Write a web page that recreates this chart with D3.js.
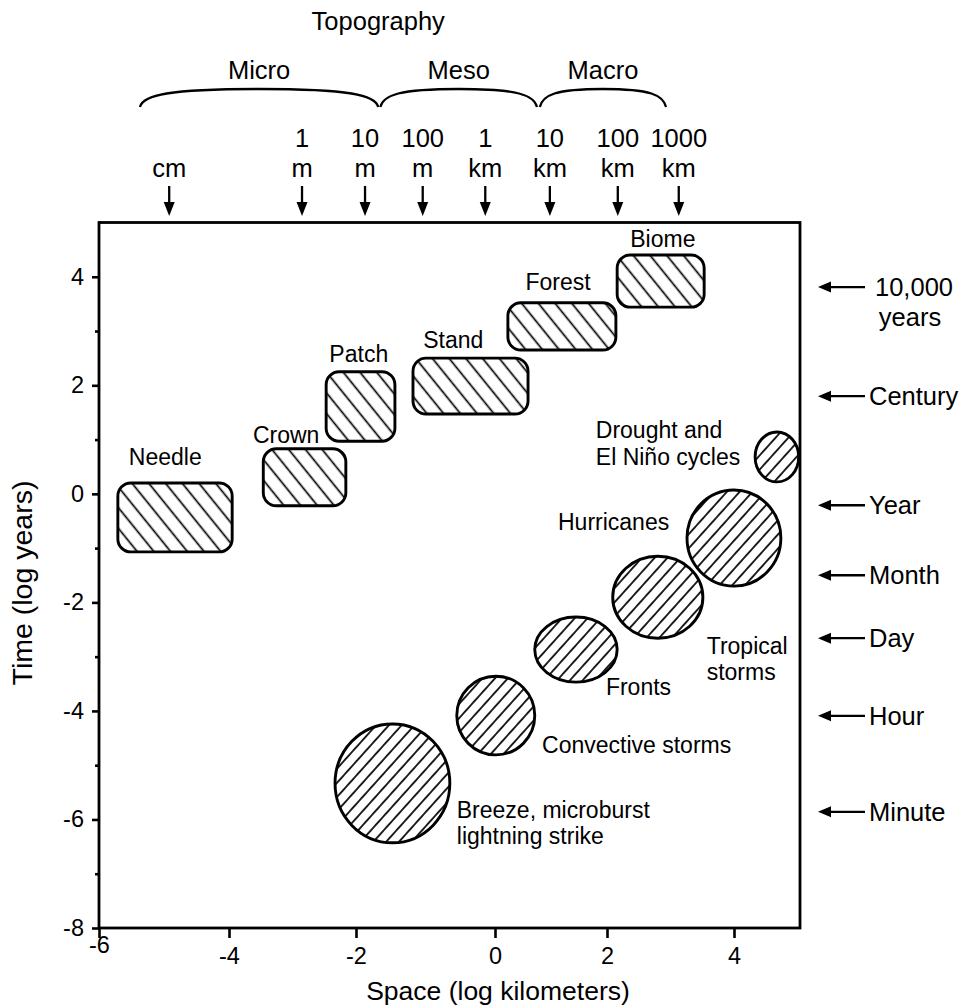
<!DOCTYPE html>
<html>
<head>
<meta charset="utf-8">
<script src="https://cdn.jsdelivr.net/npm/d3@7"></script>
<style>
    body { margin: 0; background: #fff; }
    text { font-family: "Liberation Sans", Arial, Helvetica, sans-serif; fill: #000; }
</style>
</head>
<body>
<svg id="chart"></svg>
<script>
// axis ticks
var spaceTicks = [-6, -4, -2, 0, 2, 4];
var timeTicks = [-8, -6, -4, -2, 0, 2, 4];
var timeMinor = [-7, -5, -3, -1, 1, 3];

// vegetation scales: [min, max] in log km and log years
var vegNames = ["Needle", "Crown", "Patch", "Stand", "Forest", "Biome"];
var vegSpace = [[-5.71, -3.95], [-3.46, -2.16], [-2.47, -1.44], [-1.18, 0.59], [0.23, 2.14], [2.16, 3.53]];
var vegTime = [[-1.07, 0.20], [-0.22, 0.83], [0.97, 2.25], [1.47, 2.50], [2.65, 3.52], [3.44, 4.40]];

// atmospheric scales
var atmosNames = [["Drought and", "El Niño cycles"], ["Hurricanes"], ["Tropical", "storms"],
    ["Fronts"], ["Convective storms"], ["Breeze, microburst", "lightning strike"]];
var atmosSpace = [[4.32, 4.98], [3.26, 4.71], [2.09, 3.51], [0.71, 2.16], [-0.55, 0.71], [-2.33, -0.65]];
var atmosTime = [[0.22, 1.14], [-1.70, 0.07], [-2.66, -1.15], [-3.47, -2.27], [-4.81, -3.36], [-6.43, -4.24]];

// topography reference marks along the top
var unitLabels = [["", "cm"], ["1", "m"], ["10", "m"], ["100", "m"], ["1", "km"], ["10", "km"], ["100", "km"], ["1000", "km"]];
var unitAt = [-4.92, -2.85, -1.87, -1.04, -0.14, 0.98, 2.17, 3.13];
var scaleNames = ["Micro", "Meso", "Macro"];
var scaleSpans = [[-5.37, -1.68], [-1.65, 0.75], [0.80, 2.93]];

// time reference marks on the right
var periodLabels = [["10,000", "years"], ["Century"], ["Year"], ["Month"], ["Day"], ["Hour"], ["Minute"]];
var periodAt = [3.81, 1.80, -0.21, -1.50, -2.66, -4.09, -5.86];

// label anchors (data units) : [x, y, line gap]
var vegLabelAt = [[-4.98, 0.53], [-3.10, 0.94], [-1.96, 2.43], [-0.60, 2.68], [1.125, 3.76], [2.88, 4.54]];
var atmosLabelAt = [[1.80, 1.03, 27], [1.125, -0.67, 0], [3.57, -2.96, 26], [1.98, -3.71, 0], [0.84, -4.77, 0], [-0.55, -5.98, 26]];

var width = 963,
    height = 1007;

var x = d3.scaleLinear()
    .domain([-6, -4, -2, 0, 2, 4, 5])
    .range([99, 229, 356, 495, 607, 734, 800]);

var y = d3.scaleLinear()
    .domain([-8, 5])
    .range([928, 222.5]);

var svg = d3.select("#chart")
    .attr("width", width)
    .attr("height", height);

var defs = svg.append("defs");

function hatch(id, angle, gap) {
    var p = defs.append("pattern")
        .attr("id", id)
        .attr("patternUnits", "userSpaceOnUse")
        .attr("width", gap)
        .attr("height", gap)
        .attr("patternTransform", "rotate(" + angle + ")");
    p.append("line")
        .attr("x1", gap / 2).attr("x2", gap / 2)
        .attr("y1", -1).attr("y2", gap + 1)
        .attr("stroke", "#000")
        .attr("stroke-width", 1.7);
}
hatch("hatchRect", -39, 13);
hatch("hatchRound", 42, 9.5);

var plot = svg.append("g");

plot.selectAll("rect.veg")
    .data(vegNames)
    .enter()
    .append("rect")
    .attr("class", "veg")
    .attr("x", function (d, i) { return x(vegSpace[i][0]); })
    .attr("width", function (d, i) { return x(vegSpace[i][1]) - x(vegSpace[i][0]); })
    .attr("y", function (d, i) { return y(vegTime[i][1]); })
    .attr("height", function (d, i) { return y(vegTime[i][0]) - y(vegTime[i][1]); })
    .attr("rx", 13)
    .attr("fill", "url(#hatchRect)")
    .attr("stroke", "#000")
    .attr("stroke-width", 2.9);

plot.selectAll("ellipse.atmos")
    .data(atmosNames)
    .enter()
    .append("ellipse")
    .attr("class", "atmos")
    .attr("cx", function (d, i) { return (x(atmosSpace[i][0]) + x(atmosSpace[i][1])) / 2; })
    .attr("rx", function (d, i) { return (x(atmosSpace[i][1]) - x(atmosSpace[i][0])) / 2; })
    .attr("cy", function (d, i) { return (y(atmosTime[i][0]) + y(atmosTime[i][1])) / 2; })
    .attr("ry", function (d, i) { return (y(atmosTime[i][0]) - y(atmosTime[i][1])) / 2; })
    .attr("fill", "url(#hatchRound)")
    .attr("stroke", "#000")
    .attr("stroke-width", 2.9);

plot.selectAll("text.veg")
    .data(vegNames)
    .enter()
    .append("text")
    .attr("class", "veg")
    .attr("x", function (d, i) { return x(vegLabelAt[i][0]); })
    .attr("y", function (d, i) { return y(vegLabelAt[i][1]); })
    .attr("text-anchor", "middle")
    .attr("font-size", 23)
    .text(function (d) { return d; });

var atmosText = plot.selectAll("text.atmos")
    .data(atmosNames)
    .enter()
    .append("text")
    .attr("class", "atmos")
    .attr("font-size", 23)
    .attr("y", function (d, i) { return y(atmosLabelAt[i][1]); });

atmosText.each(function (d, i) {
    var t = d3.select(this);
    d.forEach(function (line, j) {
        t.append("tspan")
            .attr("x", x(atmosLabelAt[i][0]))
            .attr("dy", j === 0 ? 0 : atmosLabelAt[i][2])
            .text(line);
    });
});

// axes
var xAxis = d3.axisBottom(x)
    .tickValues(spaceTicks)
    .tickSize(10)
    .tickPadding(9)
    .tickFormat(function (d) { return String(d); });

var gx = svg.append("g")
    .attr("transform", "translate(0," + y(-8) + ")")
    .call(xAxis)
    .attr("font-size", 23.5);
gx.select(".domain").remove();
gx.selectAll(".tick line").attr("stroke-width", 2.6);
gx.selectAll(".tick text")
    .filter(function (d) { return d === -6; })
    .attr("y", 8);

var yAxis = d3.axisLeft(y)
    .tickValues(timeTicks)
    .tickSize(7)
    .tickPadding(8)
    .tickFormat(function (d) { return String(d); });

var gy = svg.append("g")
    .attr("transform", "translate(" + x(-6) + ",0)")
    .call(yAxis)
    .attr("font-size", 23.5);
gy.select(".domain").remove();
gy.selectAll(".tick line").attr("stroke-width", 2.6);

var gyMinor = svg.append("g")
    .attr("transform", "translate(" + x(-6) + ",0)")
    .call(d3.axisLeft(y).tickValues(timeMinor).tickSize(4).tickFormat(""));
gyMinor.select(".domain").remove();
gyMinor.selectAll(".tick line").attr("stroke-width", 2.6);

svg.append("rect")
    .attr("x", x(-6))
    .attr("y", y(5))
    .attr("width", x(5) - x(-6))
    .attr("height", y(-8) - y(5))
    .attr("fill", "none")
    .attr("stroke", "#000")
    .attr("stroke-width", 2.8);

svg.append("text")
    .attr("x", 498)
    .attr("y", 1000)
    .attr("text-anchor", "middle")
    .attr("font-size", 26.5)
    .text("Space (log kilometers)");

svg.append("text")
    .attr("transform", "translate(32,583) rotate(-90)")
    .attr("text-anchor", "middle")
    .attr("font-size", 28.5)
    .text("Time (log years)");

// topography header
var head = svg.append("g").attr("font-size", 25.5);

head.append("text")
    .attr("x", x(scaleSpans[0][1]))
    .attr("y", 30)
    .attr("text-anchor", "middle")
    .text("Topography");

head.selectAll("path.brace")
    .data(scaleSpans)
    .enter()
    .append("path")
    .attr("class", "brace")
    .attr("fill", "none")
    .attr("stroke", "#000")
    .attr("stroke-width", 2.3)
    .attr("d", function (d) {
        var x0 = x(d[0]), x1 = x(d[1]), xm = (x0 + x1) / 2, w = x1 - x0,
            ye = 107, yt = 89;
        var p = d3.path();
        p.moveTo(x0, ye);
        p.bezierCurveTo(x0 + 3, ye - 12, x0 + w * 0.12, yt, xm, yt);
        p.bezierCurveTo(x1 - w * 0.12, yt, x1 - 3, ye - 12, x1, ye);
        return p.toString();
    });

head.selectAll("text.scale")
    .data(scaleNames)
    .enter()
    .append("text")
    .attr("class", "scale")
    .attr("x", function (d, i) { return (x(scaleSpans[i][0]) + x(scaleSpans[i][1])) / 2; })
    .attr("y", 79)
    .attr("text-anchor", "middle")
    .text(function (d) { return d; });

var units = head.selectAll("g.unit")
    .data(unitLabels)
    .enter()
    .append("g")
    .attr("class", "unit")
    .attr("transform", function (d, i) { return "translate(" + x(unitAt[i]) + ",0)"; });

units.append("text").attr("y", 147).attr("text-anchor", "middle").text(function (d) { return d[0]; });
units.append("text").attr("y", 177).attr("text-anchor", "middle").text(function (d) { return d[1]; });
units.append("line")
    .attr("y1", 186).attr("y2", 205)
    .attr("stroke", "#000")
    .attr("stroke-width", 2.3);
units.append("path").attr("d", "M-5.5,202L5.5,202L0,216Z").attr("fill", "#000");

// time references
var periods = svg.selectAll("g.period")
    .data(periodLabels)
    .enter()
    .append("g")
    .attr("class", "period")
    .attr("font-size", 25.5)
    .attr("transform", function (d, i) { return "translate(0," + y(periodAt[i]) + ")"; });

periods.append("line")
    .attr("x1", 829).attr("x2", 865)
    .attr("stroke", "#000")
    .attr("stroke-width", 2.3);
periods.append("path").attr("d", "M818,0L831,-5.5L831,5.5Z").attr("fill", "#000");

periods.each(function (d) {
    var g = d3.select(this);
    if (d.length > 1) {
        g.append("text").attr("x", 914).attr("y", 9).attr("text-anchor", "middle").text(d[0]);
        g.append("text").attr("x", 910).attr("y", 39).attr("text-anchor", "middle").text(d[1]);
    } else {
        g.append("text").attr("x", 869).attr("y", 9).text(d[0]);
    }
});
</script>
</body>
</html>
